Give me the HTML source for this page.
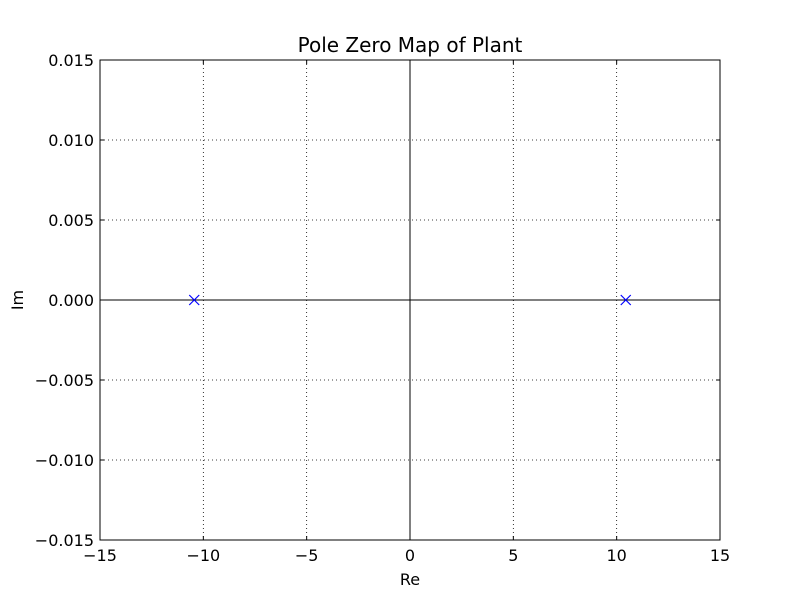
<!DOCTYPE html>
<html><head><meta charset="utf-8">
<style>
body{margin:0;background:#fff;}
svg{display:block;font-family:"DejaVu Sans","Liberation Sans",sans-serif;}
</style></head>
<body>
<svg id="chart" width="800" height="600">
<rect width="800" height="600" fill="#fff"/>
<g id="grid"></g>
<g id="marks"></g>
<g id="ticks"></g>
<rect x="100" y="60" width="620" height="480" fill="none" stroke="#000" stroke-width="1"/>
<text x="410" y="52" text-anchor="middle" font-size="20">Pole Zero Map of Plant</text>
<text x="410" y="585" text-anchor="middle" font-size="16">Re</text>
<text x="23" y="300" text-anchor="middle" font-size="16" transform="rotate(-90 23 300)">Im</text>
</svg>
<script>
const xTicks=[-15,-10,-5,0,5,10,15];
const xTickLabels=["\u221215","\u221210","\u22125","0","5","10","15"];
const yTicks=[-0.015,-0.010,-0.005,0,0.005,0.010,0.015];
const yTickLabels=["\u22120.015","\u22120.010","\u22120.005","0.000","0.005","0.010","0.015"];
const poleRe=[-10.44,10.44];
const poleIm=[0,0];
const NS="http://www.w3.org/2000/svg";
const L=100,R=720,T=60,B=540;
function sx(v){return L+(v+15)/30*(R-L);}
function sy(v){return B-(v+0.015)/0.03*(B-T);}
function mk(tag,attrs,parent){const e=document.createElementNS(NS,tag);for(const k in attrs)e.setAttribute(k,attrs[k]);parent.appendChild(e);return e;}
const grid=document.getElementById('grid'),ticks=document.getElementById('ticks'),marks=document.getElementById('marks');
xTicks.forEach((v,i)=>{
  const x=sx(v);
  const g=mk('line',{x1:x,x2:x,y1:T,y2:B,stroke:'#000','stroke-dasharray':'1,3','stroke-width':0.8},grid);
  
  
  mk('line',{x1:x,x2:x,y1:B,y2:B-4,stroke:'#000'},ticks);
  mk('line',{x1:x,x2:x,y1:T,y2:T+4,stroke:'#000'},ticks);
  const t=mk('text',{x:x,y:B+21,'text-anchor':'middle','font-size':16},ticks);
  t.textContent=xTickLabels[i];
  
  
});
yTicks.forEach((v,i)=>{
  const y=sy(v);
  const g=mk('line',{x1:L,x2:R,y1:y,y2:y,stroke:'#000','stroke-dasharray':'1,3','stroke-width':0.8},grid);
  
  
  mk('line',{x1:L,x2:L+4,y1:y,y2:y,stroke:'#000'},ticks);
  mk('line',{x1:R,x2:R-4,y1:y,y2:y,stroke:'#000'},ticks);
  const t=mk('text',{x:L-6,y:y+6,'text-anchor':'end','font-size':16},ticks);
  t.textContent=yTickLabels[i];
  
  
});
const ax=mk('line',{x1:sx(0),x2:sx(0),y1:T,y2:B,stroke:'#000'},marks);


const ay=mk('line',{x1:L,x2:R,y1:sy(0),y2:sy(0),stroke:'#000'},marks);


poleRe.forEach((re,i)=>{
  const x=sx(re),y=sy(poleIm[i]),s=5;
  const g=mk('g',{},marks);
  
  
  mk('line',{x1:x-s,y1:y-s,x2:x+s,y2:y+s,stroke:'#0000ff','stroke-width':1.2},g);
  mk('line',{x1:x-s,y1:y+s,x2:x+s,y2:y-s,stroke:'#0000ff','stroke-width':1.2},g);
});
</script>
</body></html>
